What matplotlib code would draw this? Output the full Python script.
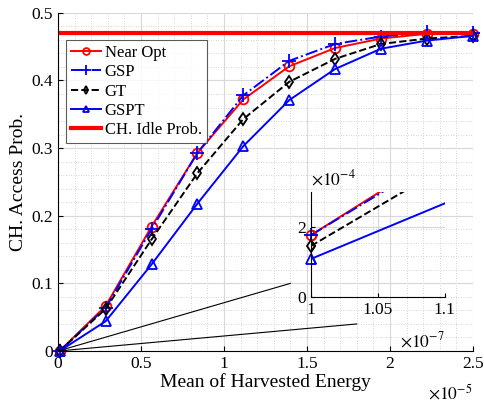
import numpy as np
import matplotlib
matplotlib.use('Agg')
import matplotlib.pyplot as plt
from matplotlib.ticker import FuncFormatter, MultipleLocator

plt.rcParams['font.family'] = ['Liberation Serif', 'DejaVu Serif']
plt.rcParams['mathtext.fontset'] = 'stix'

# mean of harvested energy (J)
energy = np.array([0.01, 0.2867, 0.5633, 0.84, 1.1167, 1.3933, 1.67, 1.9467, 2.2233, 2.5]) * 1e-5

near_opt = [1.76e-4, 0.0666, 0.184, 0.293, 0.372, 0.421, 0.448, 0.462, 0.469, 0.469]
gsp = [1.76e-4, 0.064, 0.180, 0.293, 0.378, 0.429, 0.454, 0.465, 0.471, 0.470]
gt = [1.45e-4, 0.0623, 0.165, 0.263, 0.343, 0.398, 0.432, 0.454, 0.462, 0.466]
gspt = [1.08e-4, 0.044, 0.128, 0.218, 0.303, 0.371, 0.417, 0.447, 0.459, 0.466]
idle_prob = 0.47

# zoom connector lines (data coords of their far ends)
conn_x = [1.4e-5, 1.8e-5]
conn_y = [0.1, 0.04]

styles = [
    (near_opt, 'Near Opt', dict(ls='-', color='r', marker='o', mfc='none', ms=7)),
    (gsp, 'GSP', dict(ls='-.', color='b', marker='+', ms=10)),
    (gt, 'GT', dict(ls='--', color='k', marker='d', mfc='none', ms=6)),
    (gspt, 'GSPT', dict(ls='-', color='b', marker='^', mfc='none', ms=7)),
]

fig = plt.figure(figsize=(4.84, 4.05), dpi=100)
ax = fig.add_axes([0.12, 0.1333, 0.857, 0.835])

for vals, name, st in styles:
    ax.plot(energy, vals, lw=1.4, mew=1.3, label=name, clip_on=False, **st)
ax.axhline(idle_prob, color='r', lw=3, label='CH. Idle Prob.')
for cx, cy in zip(conn_x, conn_y):
    ax.plot([0, cx], [0, cy], color='k', lw=0.8)

ax.set_xlim(0, 2.5e-5)
ax.set_ylim(0, 0.5)
ax.xaxis.set_major_locator(MultipleLocator(0.5e-5))
ax.xaxis.set_minor_locator(MultipleLocator(0.1e-5))
ax.yaxis.set_major_locator(MultipleLocator(0.1))
ax.yaxis.set_minor_locator(MultipleLocator(0.02))
ax.xaxis.set_major_formatter(FuncFormatter(lambda v, p: '%g' % round(v / 1e-5, 3)))
ax.yaxis.set_major_formatter(FuncFormatter(lambda v, p: '%g' % round(v, 3)))
ax.grid(which='major', color='#d8d8d8', lw=0.8)
ax.grid(which='minor', color='#c8c8c8', lw=0.6, ls=(0, (1, 2)))
ax.set_axisbelow(True)
for s in ['top', 'right']:
    ax.spines[s].set_visible(False)
ax.tick_params(which='both', direction='in', labelsize=12.5)
ax.tick_params(which='minor', length=0)
ax.set_xlabel('Mean of Harvested Energy', fontsize=14, labelpad=1)
ax.set_ylabel('CH. Access Prob.', fontsize=14, labelpad=3)
ax.text(1.0, -0.125, r'$\times10^{-5}$', transform=ax.transAxes, ha='right', va='center', fontsize=12.5)

leg = ax.legend(loc='upper left', bbox_to_anchor=(0.02, 0.92), fontsize=12, frameon=True,
                fancybox=False, edgecolor='#333333', borderpad=0.3, labelspacing=0.2,
                handlelength=1.8, handletextpad=0.2, borderaxespad=0, markerscale=0.7)
leg.get_frame().set_linewidth(0.8)

# inset: same curves zoomed near the origin
axi = fig.add_axes([0.6426, 0.2674, 0.2764, 0.2593])
axi.patch.set_alpha(0)
for vals, name, st in styles:
    axi.plot(energy, vals, lw=1.4, mew=1.3, markevery=[0], **st)
axi.set_xlim(1e-7, 1.1e-7)
axi.set_ylim(0, 3e-4)
axi.xaxis.set_major_locator(MultipleLocator(0.05e-7))
axi.yaxis.set_major_locator(MultipleLocator(2e-4))
axi.xaxis.set_major_formatter(FuncFormatter(lambda v, p: '%g' % round(v / 1e-7, 3)))
axi.yaxis.set_major_formatter(FuncFormatter(lambda v, p: '%g' % round(v / 1e-4, 3)))
axi.grid(which='major', color='#d8d8d8', lw=0.8)
axi.set_axisbelow(True)
for s in ['top', 'right']:
    axi.spines[s].set_visible(False)
axi.tick_params(direction='in', labelsize=12.5, length=3)
axi.text(0.0, 1.12, r'$\times10^{-4}$', transform=axi.transAxes, ha='left', va='center', fontsize=12.5)
axi.text(1.0, -0.42, r'$\times10^{-7}$', transform=axi.transAxes, ha='right', va='center', fontsize=12.5)
# markers at the left edge drawn unclipped
for vals, name, st in styles:
    axi.plot(energy[:1], vals[:1], ls='none', marker=st['marker'], color=st['color'],
             mfc=st.get('mfc', st['color']), ms=st['ms'], mew=1.3, clip_on=False)

fig.savefig('out.png', dpi=100)
